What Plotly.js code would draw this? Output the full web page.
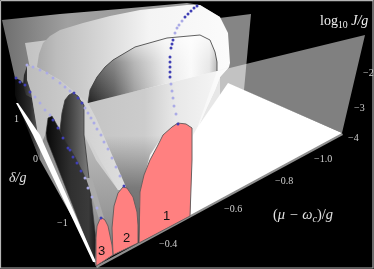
<!DOCTYPE html>
<html><head><meta charset="utf-8">
<script src="https://cdn.plot.ly/plotly-3.0.0.min.js"></script>
<style>html,body{margin:0;padding:0;background:#000;overflow:hidden}#chart{filter:blur(0.35px)}</style></head>
<body><div id="chart" style="width:374px;height:269px"></div>
<script>
// Outlines, in picture-plane units
const wallBackX=[2,60,120,187,200,220,220,96,85,40,15,15];
const wallBackY=[20,14,9,3,5,17,100,266,240,160,90,78];
const wallMidX=[25,100,180,251,244,120,40];
const wallMidY=[43,33,23,14,90,200,120];
const wallFrontX=[88,180,250,365,342,229,194,217];
const wallFrontY=[103,80,63,35,133,84,137,71];
const floorX=[190,192,197,228,342,340];
const floorY=[216,137,128,83,133,135];
const rimX=[96,342,343,97];
const rimY=[266,133,135,268];
const stripeX=[16,18,40,96,93,33];
const stripeY=[103,103,135,262,262,135];

const bigLobeX=[37,39,43,50,60,83,110,140,187,200,220,228,230,229,220,215,207,200,194,192,150,88,60,37];
const bigLobeY=[67,54,43,36,30,23,16,10,5,5,17,33,63,67,77,90,107,123,137,200,200,103,80,67];
const innerLobeX=[88,90,97,105,113,135,167,180,200,210,215,217,217];
const innerLobeY=[103,90,77,67,60,47,38,37,35,40,52,62,71];
const sheetX=[88,217,229,220,215,207,200,194,192,180,163,150,140,138,137,123];
const sheetY=[103,71,67,77,90,107,123,137,128,122,135,155,192,243,212,187];
const shadeX=[88,160,163,150,140,138,137,123];
const shadeY=[103,85,135,155,192,243,212,187];
const shelfX=[27,42,62,74,84,82,60,46,40,31,27];
const shelfY=[65,70,82,93,105,130,127,133,147,92,80];
const band2X=[74,84,88,96,108,120,126,124,118,100,84,80];
const band2Y=[93,100,103,118,145,172,187,190,190,160,130,110];
const lowerSheetX=[82,96,118,123,116,112,113,96,94,90];
const lowerSheetY=[130,160,190,187,205,228,255,262,223,187];
const band3X=[86,92,104,100];
const band3Y=[178,178,218,222];

const dome2X=[60,62,65,69,73,78,80,84,84,90,78,64];
const dome2Y=[130,113,100,95,93,96,100,105,135,187,172,150];
const dome3X=[47,46,48,52,57,66,75,85,90,94,96,95,85];
const dome3Y=[140,133,118,116,125,142,157,178,187,223,240,262,237];
const dome4X=[23,24,27,30,33,36,26];
const dome4Y=[85,75,66,72,85,100,95];
const dome5X=[15,15,20,26,31,36,40,40,20,15];
const dome5Y=[95,78,80,86,92,120,147,160,110,95];

const lobe1X=[139,140,144,150,157,163,172,178,186,192,192,191,190];
const lobe1Y=[243,192,175,160,147,135,127,123,124,128,160,190,216];
const lobe2X=[113,112,114,118,123,127,133,137,138,138];
const lobe2Y=[255,228,206,193,187,188,197,212,225,243];
const lobe3X=[96,96,97,100,102,105,108,110,112,113];
const lobe3Y=[266,238,226,219,218,220,226,235,245,255];

const dots1X=[178,176,174,173,172,171,170,170,170,170,170,171,172,173,175,177,179,182,185,188,191,194,197];
const dots1Y=[124,114,106,98,91,84,77,72,67,62,57,48,44,40,33,28,25,21,17,14,11,8,6];
const dots1Dark=[1,0,0,0,0,0,1,1,1,1,1,1,1,1,0,0,0,0,1,1,1,1,1];
const dots2X=[124,120,116,112,108,104,101,97,94,91,88,85,82,78,74,70,65,60,53,47,40,33,27];
const dots2Y=[186,176,167,158,149,142,135,129,123,118,113,108,103,98,93,91,87,83,78,73,70,67,65];
const dots2Dark=[1,0,0,0,0,0,0,0,0,0,0,0,1,1,1,0,0,0,0,0,0,0,0];
const dots3X=[101,97,92,88,85,81,77,73,70,68,63,58,53,50,45,40,35,30,25,20,16];
const dots3Y=[218,208,197,188,178,171,163,157,150,148,138,128,120,115,110,103,97,92,85,82,78];
const dots3Dark=[1,0,0,0,0,1,1,1,1,1,1,1,1,0,0,0,0,1,1,1,1];

const axisTickText=['\u22121','0','1','\u22120.4','\u22120.6','\u22120.8','\u22121.0','\u22122','\u22123','\u22124'];
const axisTickX=[62,35,16,168,233,284,323,368,359,353];
const axisTickY=[222,158,118,243,208,180,158,72,107,137];

const grad=(t,cs)=>({type:t,colorscale:cs});
function poly(x,y,fill,gradient,line){
  const t={x:x.concat(x[0]),y:y.concat(y[0]),mode:'lines',fill:'toself',hoverinfo:'skip',
    line:line||{width:0,color:'rgba(0,0,0,0)'},fillcolor:fill||'rgba(0,0,0,0)'};
  if(gradient) t.fillgradient=gradient;
  return t;
}
function dots(x,y,dark){
  return {x:x,y:y,mode:'markers',hoverinfo:'skip',
    marker:{size:3,color:dark.map(d=>d?'#4040b5':'#ababe6')}};
}
const grayEdge={width:0.8,color:'#3a3a3a'};
const pinkEdge={width:1,color:'#6b6060'};
const pink='#ff8080';
const data=[
  poly(wallBackX,wallBackY,'#8a8a8a',grad('horizontal',[[0,'#6e6e6e'],[0.3,'#a0a0a0'],[1,'#9a9a9a']])),
  poly(dome5X,dome5Y,'#333',grad('horizontal',[[0,'#0a0a0a'],[0.6,'#2a2a2a'],[1,'#666']])),
  poly(wallMidX,wallMidY,'rgba(255,255,255,0.52)'),
  poly(dome4X,dome4Y,'#333',grad('horizontal',[[0,'#202020'],[1,'#707070']])),
  poly(bigLobeX,bigLobeY,'#e0e0e0',grad('horizontal',[[0,'#a8a8a8'],[0.1,'#bcbcbc'],[0.35,'#d8d8d8'],[0.58,'#f4f4f4'],[1,'#fbfbfb']])),
  poly(shelfX,shelfY,'#bbb',grad('horizontal',[[0,'#bcbcbc'],[1,'#d0d0d0']])),
  poly(sheetX,sheetY,'#c0c0c0',grad('horizontal',[[0,'#c4c4c4'],[0.4,'#cccccc'],[0.62,'#e8e8e8'],[1,'#f8f8f8']])),
  poly(shadeX,shadeY,'rgba(0,0,0,0)',grad('vertical',[[0,'rgba(0,0,0,0.5)'],[0.35,'rgba(0,0,0,0.4)'],[0.68,'rgba(0,0,0,0)'],[1,'rgba(0,0,0,0)']])),
  poly(innerLobeX,innerLobeY,'#888',grad('horizontal',[[0,'#222'],[0.2,'#555'],[0.36,'#999'],[0.6,'#e4e4e4'],[0.8,'#f8f8f8'],[0.94,'#e0e0e0'],[1,'#a0a0a0']])),
  poly(innerLobeX,innerLobeY,'rgba(0,0,0,0)',grad('vertical',[[0,'rgba(255,255,255,0)'],[0.6,'rgba(255,255,255,0.3)'],[1,'rgba(255,255,255,0.8)']])),
  {x:innerLobeX,y:innerLobeY,mode:'lines',hoverinfo:'skip',line:grayEdge},
  poly(lowerSheetX,lowerSheetY,'#999',grad('vertical',[[0,'#777'],[0.4,'#9a9a9a'],[1,'#c0c0c0']])),
  poly(band2X,band2Y,'#ddd',grad('horizontal',[[0,'#cfcfcf'],[1,'#dedede']])),
  poly(dome2X,dome2Y,'#444',grad('horizontal',[[0,'#222'],[0.6,'#5a5a5a'],[1,'#808080']]),grayEdge),
  poly(dome3X,dome3Y,'#333',grad('horizontal',[[0,'#080808'],[0.5,'#303030'],[0.85,'#3a3a3a'],[1,'#1a1a1a']]),{width:0.6,color:'#333'}),
  poly(band3X,band3Y,'#aaa'),
  poly(wallFrontX,wallFrontY,'rgba(255,255,255,0.5)'),
  poly(floorX,floorY,'#ffffff'),
  poly(rimX,rimY,'#8f8f8f'),
  poly(stripeX,stripeY,'#ffffff'),
  poly(lobe1X,lobe1Y,pink,null,pinkEdge),
  poly(lobe2X,lobe2Y,pink,null,pinkEdge),
  poly(lobe3X,lobe3Y,pink,null,pinkEdge),
  dots(dots1X,dots1Y,dots1Dark),
  dots(dots2X,dots2Y,dots2Dark),
  dots(dots3X,dots3Y,dots3Dark)
];
const serif='"Liberation Serif","DejaVu Serif",serif';
const note=(x,y,text,size,color,font)=>({x:x,y:y,xref:'x',yref:'y',text:text,showarrow:false,
  font:{family:font||serif,size:size,color:color},xanchor:'center',yanchor:'middle'});
const annotations=axisTickText.map((t,i)=>note(axisTickX[i],axisTickY[i],t,10,'#d0d0d0'));
annotations.push(
  note(166,215,'1',13,'#111','"Liberation Sans",sans-serif'),
  note(126,237,'2',13,'#111','"Liberation Sans",sans-serif'),
  note(101,250,'3',13,'#111','"Liberation Sans",sans-serif'),
  note(17,177,'<i>\u03b4/g</i>',14,'#e0e0e0'),
  note(303,215,'(<i>\u03bc \u2212 \u03c9<sub>c</sub></i>)/<i>g</i>',14.5,'#e0e0e0'),
  note(344,21,'log<sub>10</sub> <i>J/g</i>',14,'#f0f0f0')
);
const frameX=[0.5,373,373,0.5,0.5];
const frameY=[0.7,0.7,268,268,0.7];
data.push({x:frameX,y:frameY,mode:'lines',hoverinfo:'skip',line:{width:1.2,color:'#b5b5b5'}});
Plotly.newPlot('chart',data,{
  width:374,height:269,margin:{l:0,r:0,t:0,b:0,pad:0},
  paper_bgcolor:'#000',plot_bgcolor:'#000',showlegend:false,
  xaxis:{range:[0,374],visible:false,fixedrange:true},
  yaxis:{range:[269,0],visible:false,fixedrange:true},
  annotations:annotations
},{displayModeBar:false,staticPlot:true});
</script></body></html>
